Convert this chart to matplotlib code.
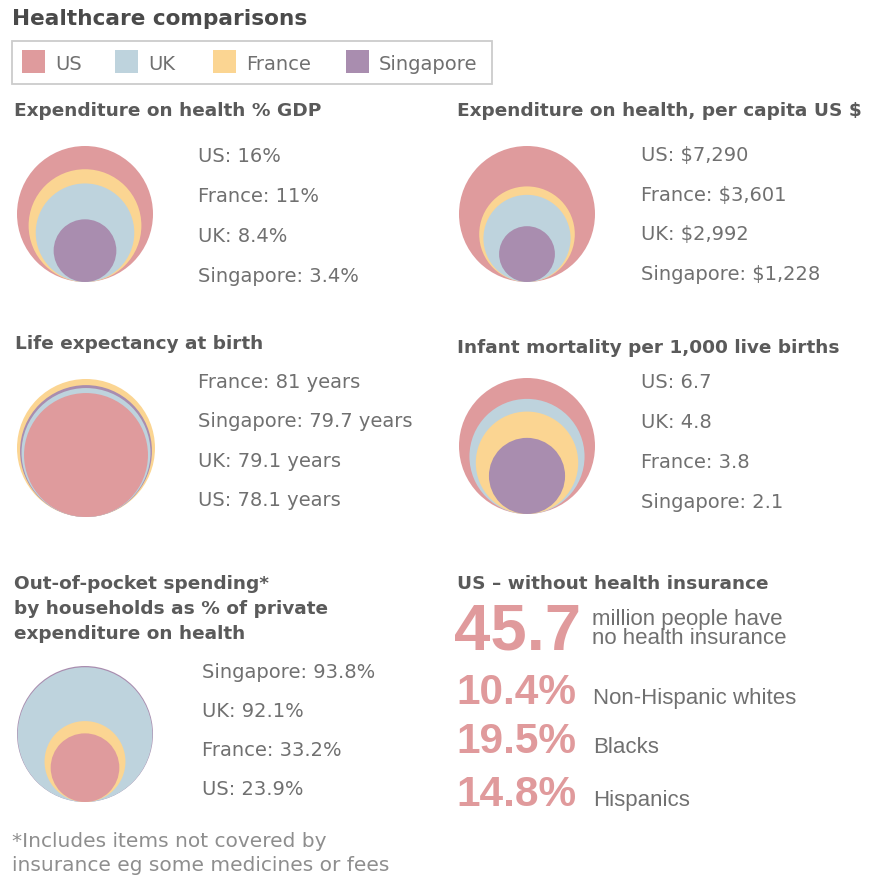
import matplotlib
matplotlib.use("Agg")
import matplotlib.pyplot as plt
from matplotlib.patches import Circle, Rectangle
import numpy as np

# ---------------- data ----------------
countries = ["US", "UK", "France", "Singapore"]
gdp_pct = [16, 8.4, 11, 3.4]
per_capita_usd = [7290, 2992, 3601, 1228]
life_expectancy = [78.1, 79.1, 81, 79.7]
infant_mortality = [6.7, 4.8, 3.8, 2.1]
out_of_pocket_pct = [23.9, 92.1, 33.2, 93.8]

uninsured_millions = 45.7
uninsured_groups = ["Non-Hispanic whites", "Blacks", "Hispanics"]
uninsured_pct = [10.4, 19.5, 14.8]

# ---------------- style ----------------
colors = {"US": "#DF9B9D", "UK": "#BED3DD", "France": "#FBD592", "Singapore": "#A98DAF"}
TITLE_C = "#4a4a4a"
HEAD_C = "#5a5a5a"
VAL_C = "#707070"
NOTE_C = "#8e8e8e"
PINK = "#E09A9C"
FONT = "DejaVu Sans"
FONT2 = "Liberation Sans"
HEAD_FS = 13.3

W, H = 880, 876
fig = plt.figure(figsize=(W / 100, H / 100), dpi=100)
ax = fig.add_axes([0, 0, 1, 1])
ax.set_xlim(0, W)
ax.set_ylim(H, 0)
ax.axis("off")

# main title
ax.text(12, 25, "Healthcare comparisons", fontsize=15.6, fontweight="bold",
        color=TITLE_C, family=FONT, va="baseline")

# legend
ax.add_patch(Rectangle((12, 41), 480, 43, fill=False, edgecolor="#cccccc", lw=1.3))
leg_x = [22, 115, 213, 346]
for c, x in zip(countries, leg_x):
    ax.add_patch(Rectangle((x, 50), 23, 23, facecolor=colors[c], edgecolor="none"))
    ax.text(x + 33, 70, c, fontsize=14, color=VAL_C, family=FONT, va="baseline")


def fmt_value(kind, v):
    if kind == "pct":
        return f"{v:g}%"
    if kind == "usd":
        return f"${v:,.0f}"
    if kind == "years":
        return f"{v:g} years"
    return f"{v:g}"


def panel(title_x, title_lines, title_y, values, kind, cx, bottom, rmax,
          lab_x, lab_y0, lab_dy, floor=0.0):
    for i, t in enumerate(title_lines):
        ax.text(title_x, title_y + i * 25, t, fontsize=HEAD_FS, fontweight="bold",
                color=HEAD_C, family=FONT, va="baseline")
    order = np.argsort(values)[::-1]
    vmax = max(values)
    for j, idx in enumerate(order):
        v = values[idx]
        r = rmax * np.sqrt((v - floor) / (vmax - floor))
        ax.add_patch(Circle((cx, bottom - r), r, facecolor=colors[countries[idx]],
                            edgecolor="none"))
        ax.text(lab_x, lab_y0 + j * lab_dy, f"{countries[idx]}: {fmt_value(kind, v)}",
                fontsize=14, color=VAL_C, family=FONT, va="baseline")


panel(14, ["Expenditure on health % GDP"], 116, gdp_pct, "pct",
      85, 282, 68, 198, 162.5, 39.7)
panel(457, ["Expenditure on health, per capita US $"], 116, per_capita_usd, "usd",
      527, 282, 68, 641, 161, 39.7)
panel(15, ["Life expectancy at birth"], 349, life_expectancy, "years",
      86, 517, 69, 198, 388, 39.4, floor=66)
panel(457, ["Infant mortality per 1,000 live births"], 353, infant_mortality, "num",
      527, 514, 68, 641, 388, 40)
panel(14, ["Out-of-pocket spending*", "by households as % of private",
           "expenditure on health"], 589, out_of_pocket_pct, "pct",
      85, 802, 68, 202, 678, 39)

# footnote
ax.text(12, 847, "*Includes items not covered by", fontsize=14.5, color=NOTE_C,
        family=FONT, va="baseline")
ax.text(12, 871, "insurance eg some medicines or fees", fontsize=14.5, color=NOTE_C,
        family=FONT, va="baseline")

# US uninsured panel
ax.text(457, 589, "US \u2013 without health insurance", fontsize=HEAD_FS, fontweight="bold",
        color=HEAD_C, family=FONT, va="baseline")
ax.text(454, 649, f"{uninsured_millions:g}", fontsize=47, fontweight="bold", color=PINK,
        family=FONT2, va="baseline")
ax.text(592, 625, "million people have", fontsize=16, color=VAL_C, family=FONT2, va="baseline")
ax.text(592, 644, "no health insurance", fontsize=16, color=VAL_C, family=FONT2, va="baseline")
grp_y = [704, 753, 806]
for g, p, y in zip(uninsured_groups, uninsured_pct, grp_y):
    ax.text(456, y, f"{p:g}%", fontsize=30.5, fontweight="bold", color=PINK,
            family=FONT2, va="baseline")
    ax.text(593, y, g, fontsize=16, color=VAL_C, family=FONT2, va="baseline")

fig.savefig("out.png", dpi=100)
